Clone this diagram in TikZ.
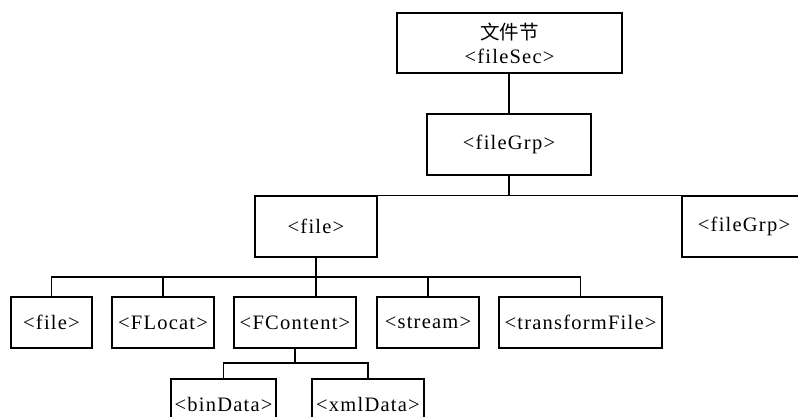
\documentclass[tikz,border=0pt]{standalone}
\usepackage{fontspec}
\setmainfont{Liberation Serif}
\newfontfamily\cjk{Noto Sans CJK SC}
\newfontfamily\boxfont[LetterSpace=6]{Liberation Serif}
\usetikzlibrary{positioning}

\begin{document}
\begin{tikzpicture}[
    x=1pt, y=1pt,
    line width=1.4pt,
    box/.style={rectangle, draw, inner sep=0pt, minimum height=51pt, font=\boxfont\fontsize{20.5}{23}\selectfont},
    tall/.style={box, minimum height=61pt}
]
\useasboundingbox (0,0) rectangle (798,417);
\clip (0,0) rectangle (798,417);

% Root
\node[box, minimum width=225pt, minimum height=60pt, align=center] (fileSec) at (509.5,374) {{\cjk\fontsize{19.5}{23}\selectfont 文件节}\\[1pt]<fileSec>};

% Groups
\node[tall, minimum width=164pt] (fileGrp) at (509,272.5) {<fileGrp>};
\node[tall, minimum width=122pt] (file) at (316,190.5) {<file>};
\node[tall, minimum width=124pt] (fileGrpB) at (744,190.5) {<fileGrp>};

% Children of file
\node[box, minimum width=81pt] (subFile) at (51.5,94.5) {<file>};
\node[box, minimum width=102pt] (fLocat) at (163,94.5) {<FLocat>};
\node[box, minimum width=122pt] (fContent) at (295,94.5) {<FContent>};
\node[box, minimum width=102pt] (stream) at (428,94.5) {<stream>};
\node[box, minimum width=163pt] (transformFile) at (580.5,94.5) {<transformFile>};

% Children of FContent
\node[box, minimum width=105pt] (binData) at (223.5,12.5) {<binData>};
\node[box, minimum width=112pt] (xmlData) at (368,12.5) {<xmlData>};

% Connectors
\coordinate (fileBus) at (0,140);
\coordinate (dataBus) at (0,54);
\draw (fileGrp.north) -- (fileGrp.north |- fileSec.south);
\draw (fileGrp.south) -- (fileGrp.south |- file.north);
\draw (file.north east) -- (fileGrpB.north west);
\draw (file.south) -- (file.south |- fContent.north);
\draw (subFile.north) -- (subFile.north |- fileBus) -- (transformFile.north |- fileBus) -- (transformFile.north);
\draw (fLocat.north) -- (fLocat.north |- fileBus);
\draw (stream.north) -- (stream.north |- fileBus);
\draw (fContent.south) -- (fContent.south |- dataBus);
\draw (binData.north) -- (binData.north |- dataBus) -- (xmlData.north |- dataBus) -- (xmlData.north);

\end{tikzpicture}
\end{document}
